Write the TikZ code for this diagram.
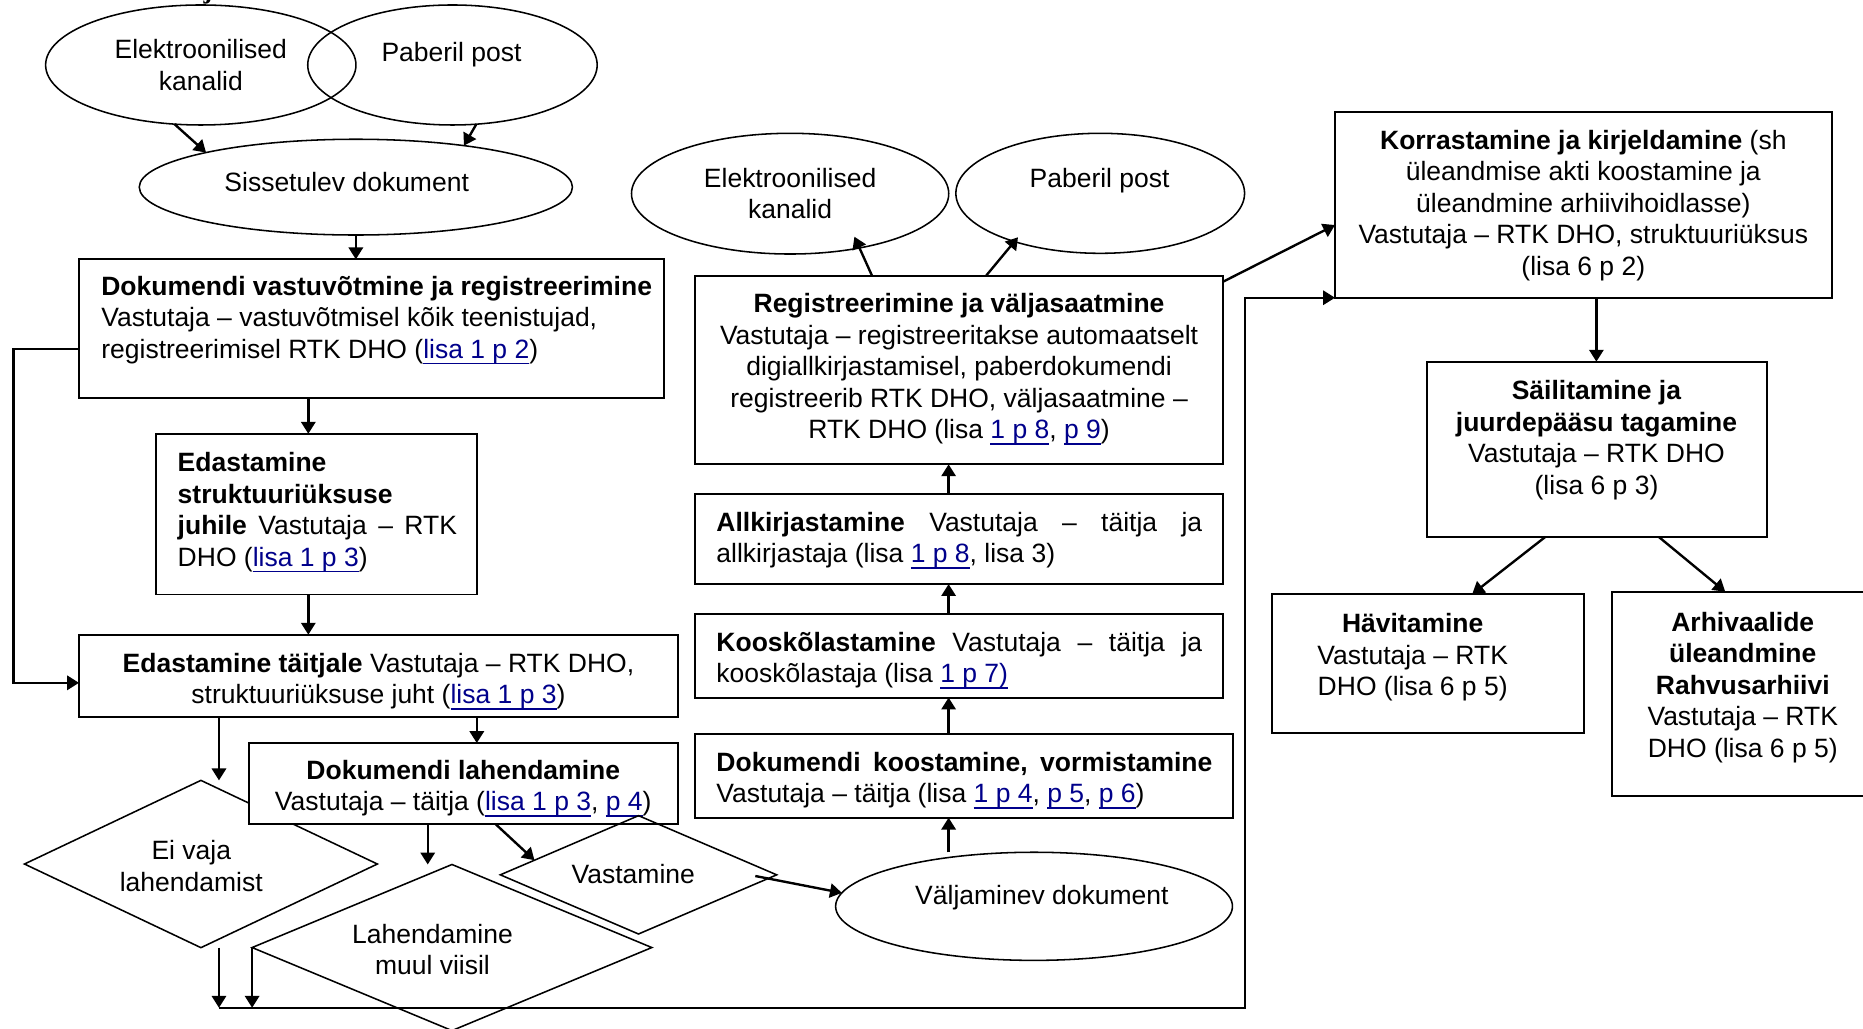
\documentclass[tikz,border=0pt]{standalone}
\usepackage{fontspec}
\setmainfont{Liberation Sans}
\newfontfamily\jfont{Liberation Serif}
\usetikzlibrary{shapes.geometric,arrows.meta,calc}
\definecolor{linkc}{RGB}{0,0,139}
\newcommand{\lnk}[1]{\textcolor{linkc}{\setbox0\hbox{#1}\rlap{\rule[-2.5pt]{\wd0}{0.6pt}}\box0}}
\newcommand{\ns}{\spaceskip=\fontdimen2\font\xspaceskip=\fontdimen2\font\relax}
\newcommand{\jline}[2]{\leavevmode\hbox to #1{#2}}
\begin{document}
\begin{tikzpicture}[x=0.5pt,y=-0.5pt,
  font=\fontsize{11.15pt}{13.25pt}\selectfont,
  boxs/.style={draw, line width=0.8pt, fill=white, inner sep=0pt, outer sep=0pt},
  ell/.style={draw, ellipse, line width=0.65pt, inner sep=0pt, outer sep=0pt},
  dia/.style={draw, diamond, line width=0.65pt, inner sep=0pt, outer sep=0pt},
  txt/.style={inner sep=0pt, anchor=base},
  arr/.style={line width=1pt, -{Triangle[length=5pt,width=6pt]}}]
\useasboundingbox (0,0) rectangle (1568,866);
\clip (0,0) rectangle (1568,866);

% helper coordinates
\coordinate (ax1) at (259.5,0);
\coordinate (ax2) at (184.3,0);
\coordinate (ax3) at (401.3,0);
\coordinate (ax4) at (360,0);
\coordinate (ax5) at (417.1,0);
\coordinate (ax6) at (798.4,0);
\coordinate (ax7) at (733.9,0);
\coordinate (ax8) at (1343.6,0);
\coordinate (ax9) at (1300.6,0);
\coordinate (ax10) at (1239.1,0);
\coordinate (ax11) at (1396.1,0);
\coordinate (ax12) at (1452,0);
\coordinate (ax13) at (830,0);
\coordinate (fx) at (11.5,0);
\coordinate (fy1) at (0,293.8);
\coordinate (fy2) at (0,574.7);
\coordinate (bl) at (0,848.2);
\coordinate (rx) at (1048,0);
\coordinate (ky1) at (0,189.4);

\node[txt, font=\jfont\bfseries\fontsize{11.15pt}{13.25pt}\selectfont] (topj) at (175,-1) {j};

% ellipses
\node[ell, minimum width=130.6pt, minimum height=50.5pt, align=center] (e1) at (169,54.7) {Elektroonilised\\kanalid};
\node[ell, minimum width=121.8pt, minimum height=50.5pt] (e2) at (380.8,54.7) {};
\node[txt] (e2t) at (380,51.5) {Paberil post};
\node[ell, minimum width=182.3pt, minimum height=40.3pt] (sis) at (299.5,157.5) {};
\node[txt] (sist) at (291.8,160.9) {Sissetulev dokument};
\node[ell, minimum width=133.5pt, minimum height=50.8pt, align=center] (e3) at (665,163) {Elektroonilised\\kanalid};
\node[ell, minimum width=121.5pt, minimum height=50.5pt] (e4) at (926,162.7) {};
\node[txt] (e4t) at (925.5,158.1) {Paberil post};
\node[ell, minimum width=167pt, minimum height=45.5pt] (v) at (870.3,762.8) {};
\node[txt] (vt) at (876.9,761.3) {Väljaminev dokument};

% left column
\node[boxs, minimum width=246.2pt, minimum height=58.2pt] (b1) at (312.8,276.5) {};
\node[txt, anchor=base west, text width=250pt, align=left] (b1t) at (84.9,248.7)
  {\ns\textbf{Dokumendi vastuvõtmine ja registreerimine}\\Vastutaja – vastuvõtmisel kõik teenistujad,\\registreerimisel RTK DHO (\lnk{lisa 1 p 2})};
\node[boxs, minimum width=134.95pt, minimum height=67.65pt] (b2) at (266.45,432.75) {};
\node[txt, anchor=base west, text width=120pt, align=left] (b2t) at (149.2,397)
  {\ns\textbf{Edastamine}\\\textbf{struktuuriüksuse}\\\jline{117.5pt}{\textbf{juhile}\hfill Vastutaja\hfill–\hfill RTK}\\DHO (\lnk{lisa 1 p 3})};
\node[boxs, minimum width=252pt, minimum height=34.6pt] (b3) at (318.5,568.8) {};
\node[txt, text width=245pt, align=center] (b3t) at (318.5,565.8)
  {\ns\textbf{Edastamine täitjale} Vastutaja – RTK DHO,\\struktuuriüksuse juht (\lnk{lisa 1 p 3})};
\node[dia, minimum width=148.5pt, minimum height=70.4pt] (d1) at (169.1,727.2) {};
\node[txt, text width=80pt, align=center] (d1t) at (161,723.5) {\ns Ei vaja\\lahendamist};
\node[boxs, minimum width=180.6pt, minimum height=34.1pt] (b4) at (389.9,659.5) {};
\node[txt, text width=175pt, align=center] (b4t) at (389.9,656)
  {\ns\textbf{Dokumendi lahendamine}\\Vastutaja – täitja (\lnk{lisa 1 p 3}, \lnk{p 4})};
\node[dia, minimum width=168.2pt, minimum height=69.9pt] (d2) at (380.4,797.5) {};
\node[txt, text width=80pt, align=center] (d2t) at (364,793.7) {\ns Lahendamine\\muul viisil};
\node[dia, minimum width=116.3pt, minimum height=49.8pt] (d3) at (537.4,736.3) {};
\node[txt] (d3t) at (533,743.5) {Vastamine};

% middle column
\node[boxs, minimum width=222.4pt, minimum height=79.4pt] (c4) at (807.2,311.4) {};
\node[txt, text width=215pt, align=center] (c4t) at (807.2,263.3)
  {\ns\textbf{Registreerimine ja väljasaatmine}\\Vastutaja – registreeritakse automaatselt\\digiallkirjastamisel, paberdokumendi\\registreerib RTK DHO, väljasaatmine –\\RTK DHO (lisa \lnk{1 p 8}, \lnk{p 9})};
\node[boxs, minimum width=222.25pt, minimum height=37.95pt] (c3) at (807.05,453.65) {};
\node[txt, anchor=base west, text width=210pt, align=left] (c3t) at (602.6,447.1)
  {\ns\jline{204.4pt}{\textbf{Allkirjastamine}\hfill Vastutaja\hfill–\hfill täitja\hfill ja}\\allkirjastaja (lisa \lnk{1 p 8}, lisa 3)};
\node[boxs, minimum width=222.25pt, minimum height=35.3pt] (c2) at (807.05,551.8) {};
\node[txt, anchor=base west, text width=210pt, align=left] (c2t) at (602.6,548.3)
  {\ns\jline{204.4pt}{\textbf{Kooskõlastamine}\hfill Vastutaja\hfill–\hfill täitja\hfill ja}\\kooskõlastaja (lisa \lnk{1 p 7)}};
\node[boxs, minimum width=226.55pt, minimum height=35.25pt] (c1) at (811.35,652.95) {};
\node[txt, anchor=base west, text width=212pt, align=left] (c1t) at (602.6,649.1)
  {\ns\jline{208.7pt}{\textbf{Dokumendi\hfill koostamine,\hfill vormistamine}}\\Vastutaja – täitja (lisa \lnk{1 p 4}, \lnk{p 5}, \lnk{p 6})};

% right column
\node[boxs, minimum width=209pt, minimum height=78.3pt] (k) at (1332.6,172.3) {};
\node[txt, text width=205pt, align=center] (kt) at (1332.6,125.8)
  {\ns\textbf{Korrastamine ja kirjeldamine} (sh\\üleandmise akti koostamine ja\\üleandmine arhiivihoidlasse)\\Vastutaja – RTK DHO, struktuuriüksus\\(lisa 6 p 2)};
\node[boxs, minimum width=143.25pt, minimum height=73.75pt] (s) at (1343.95,378.15) {};
\node[txt, text width=140pt, align=center] (st) at (1343.7,336.3)
  {\ns\textbf{Säilitamine ja}\\\textbf{juurdepääsu tagamine}\\Vastutaja – RTK DHO\\(lisa 6 p 3)};
\node[boxs, minimum width=131.6pt, minimum height=58.65pt] (h) at (1201.9,558.65) {};
\node[txt, text width=125pt, align=center] (ht) at (1189,532.7)
  {\ns\textbf{Hävitamine}\\Vastutaja – RTK\\DHO (lisa 6 p 5)};
\node[boxs, minimum width=110.2pt, minimum height=86pt] (a) at (1466.8,584) {};
\node[txt, text width=108pt, align=center] (atxt) at (1466.8,531.3)
  {\ns\textbf{Arhivaalide}\\\textbf{üleandmine}\\\textbf{Rahvusarhiivi}\\Vastutaja – RTK\\DHO (lisa 6 p 5)};

% connectors
\draw[arr] (e1.-114) -- (sis.167.6);
\draw[arr] (e2.-68.5) -- (sis.21.5);
\draw[arr] (sis.south) -- (sis.south |- b1.north);
\draw[arr] (b1.south -| ax1) -- (b2.north -| ax1);
\draw[arr] (b2.south -| ax1) -- (b3.north -| ax1);
\draw[arr] (b1.west |- fy1) -- (fx |- fy1) -- (fx |- fy2) -- (b3.west |- fy2);
\draw[arr] (b3.south -| ax2) -- (ax2 |- d1.north);
\draw[arr] (b3.south -| ax3) -- (b4.north -| ax3);
\draw[arr] (b4.south -| ax4) -- (ax4 |- d2.north);
\draw[arr] (b4.south -| ax5) -- (d3.172);
\draw[arr] ($(d3.east)+(-18,1)$) -- (v.176.8);
\draw[arr] (ax6 |- v.north) -- (c1.south -| ax6);
\draw[arr] (c1.north -| ax6) -- (c2.south -| ax6);
\draw[arr] (c2.north -| ax6) -- (c3.south -| ax6);
\draw[arr] (c3.north -| ax6) -- (c4.south -| ax6);
\draw[arr] (c4.north -| ax7) -- ($(e3.center)+(54.1,36.2)$);
\draw[arr] (c4.north -| ax13) -- ($(e4.center)+(-69.2,37)$);
\draw[arr] ($(c4.north east)+(0,5)$) -- (k.west |- ky1);
\draw[arr] (d1.south -| ax2) -- (ax2 |- bl);
\draw[arr] (d2.west) -- (d2.west |- bl);
\draw[arr] (ax2 |- bl) -- (rx |- bl) -- (rx |- k.south) -- (k.south west);
\draw[arr] (k.south -| ax8) -- (s.north -| ax8);
\draw[arr] (s.south -| ax9) -- (h.north -| ax10);
\draw[arr] (s.south -| ax11) -- (a.north -| ax12);
\end{tikzpicture}
\end{document}
